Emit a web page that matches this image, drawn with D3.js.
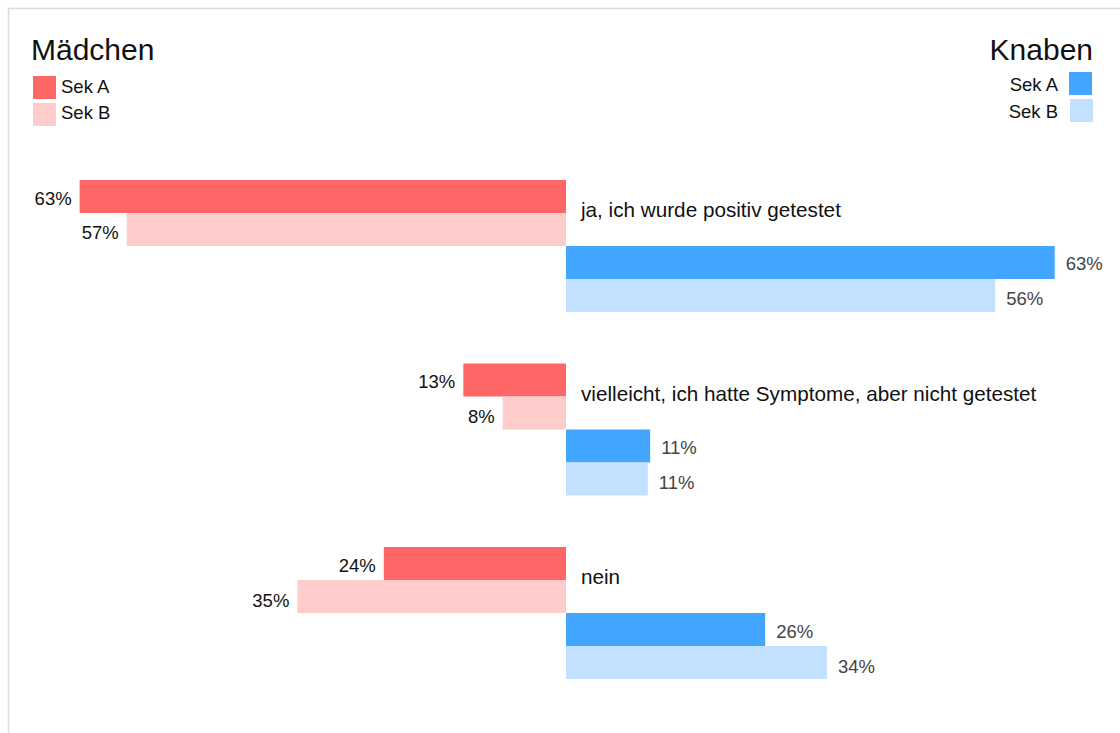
<!DOCTYPE html>
<html>
<head>
<meta charset="utf-8">
<script src="https://cdn.jsdelivr.net/npm/d3@7"></script>
<style>
  html, body { margin: 0; padding: 0; background: #fff; }
  svg { display: block; font-family: "Liberation Sans", Arial, sans-serif; }
</style>
</head>
<body>
<svg id="chart" width="1120" height="733"></svg>
<script>
const categories = [
  "ja, ich wurde positiv getestet",
  "vielleicht, ich hatte Symptome, aber nicht getestet",
  "nein"
];
const seriesKeys = ["mA", "mB", "kA", "kB"];
const seriesNames = ["Sek A", "Sek B", "Sek A", "Sek B"];
const maedchenSekA = [63.0, 13.3, 23.6];
const maedchenSekB = [56.9, 8.2, 34.8];
const knabenSekA = [63.3, 10.9, 25.8];
const knabenSekB = [55.6, 10.6, 33.8];
const groupTitles = ["Mädchen", "Knaben"];

const colors = { mA: "#ff6666", mB: "#ffcccc", kA: "#42a5ff", kB: "#c2e1ff" };
const valuesByKey = { mA: maedchenSekA, mB: maedchenSekB, kA: knabenSekA, kB: knabenSekB };

const svg = d3.select("#chart");
const cx = 566;
const pxPerPct = 7.72;

// frame
svg.append("rect").attr("x", 8.5).attr("y", 8.5).attr("width", 1300).attr("height", 1000)
  .attr("fill", "none").attr("stroke", "#dcdcdc").attr("stroke-width", 1.5);

const xLeft = d3.scaleLinear().domain([0, 100]).range([cx, cx - 100 * pxPerPct]);
const xRight = d3.scaleLinear().domain([0, 100]).range([cx, cx + 100 * pxPerPct]);

const y0 = d3.scaleBand().domain(categories).range([180, 679]).paddingInner(0.2807).paddingOuter(0);
const y1 = d3.scaleBand().domain(seriesKeys).range([0, y0.bandwidth()]).padding(0);

const fmt = v => Math.round(v) + "%";

const rows = [];
categories.forEach((c, i) => {
  seriesKeys.forEach(k => rows.push({ cat: c, key: k, value: valuesByKey[k][i], left: k[0] === "m" }));
});

const g = svg.append("g");
g.selectAll("rect.bar").data(rows).join("rect")
  .attr("class", "bar")
  .attr("x", d => d.left ? xLeft(d.value) : cx)
  .attr("width", d => d.left ? cx - xLeft(d.value) : xRight(d.value) - cx)
  .attr("y", d => y0(d.cat) + y1(d.key))
  .attr("height", y1.bandwidth())
  .attr("fill", d => colors[d.key]);

g.selectAll("text.val").data(rows).join("text")
  .attr("class", "val")
  .attr("x", d => d.left ? xLeft(d.value) - 8 : xRight(d.value) + 11)
  .attr("y", d => y0(d.cat) + y1(d.key) + (d.key[1] === "B" ? 26.5 : 24.5))
  .attr("text-anchor", d => d.left ? "end" : "start")
  .attr("font-size", 18.5)
  .attr("fill", d => d.left ? "#111" : "#444")
  .text(d => fmt(d.value));

g.selectAll("text.cat").data(categories).join("text")
  .attr("class", "cat")
  .attr("x", 581)
  .attr("y", d => y0(d) + 37)
  .attr("font-size", 20.7)
  .attr("fill", "#111")
  .text(d => d);

// Legends
const leg = svg.append("g");
leg.append("text").attr("x", 31).attr("y", 60).attr("font-size", 30).attr("fill", "#111").text(groupTitles[0]);
leg.append("text").attr("x", 1093).attr("y", 60).attr("font-size", 30).attr("text-anchor", "end").attr("fill", "#111").text(groupTitles[1]);

const legL = ["mA", "mB"];
leg.selectAll("rect.ll").data(legL).join("rect").attr("class", "ll")
  .attr("x", 33).attr("y", (d, i) => 76 + i * 27).attr("width", 23).attr("height", 23)
  .attr("fill", d => colors[d]);
leg.selectAll("text.ll").data(legL).join("text").attr("class", "ll")
  .attr("x", 61).attr("y", (d, i) => 93 + i * 26).attr("font-size", 18.5).attr("fill", "#111")
  .text((d, i) => seriesNames[i]);

const legR = ["kA", "kB"];
leg.selectAll("rect.lr").data(legR).join("rect").attr("class", "lr")
  .attr("x", (d, i) => 1069 + i).attr("y", (d, i) => 72 + i * 27).attr("width", 23).attr("height", 23)
  .attr("fill", d => colors[d]);
leg.selectAll("text.lr").data(legR).join("text").attr("class", "lr")
  .attr("x", 1058).attr("y", (d, i) => 91 + i * 27).attr("font-size", 18.5).attr("text-anchor", "end").attr("fill", "#111")
  .text((d, i) => seriesNames[i + 2]);
</script>
</body>
</html>
